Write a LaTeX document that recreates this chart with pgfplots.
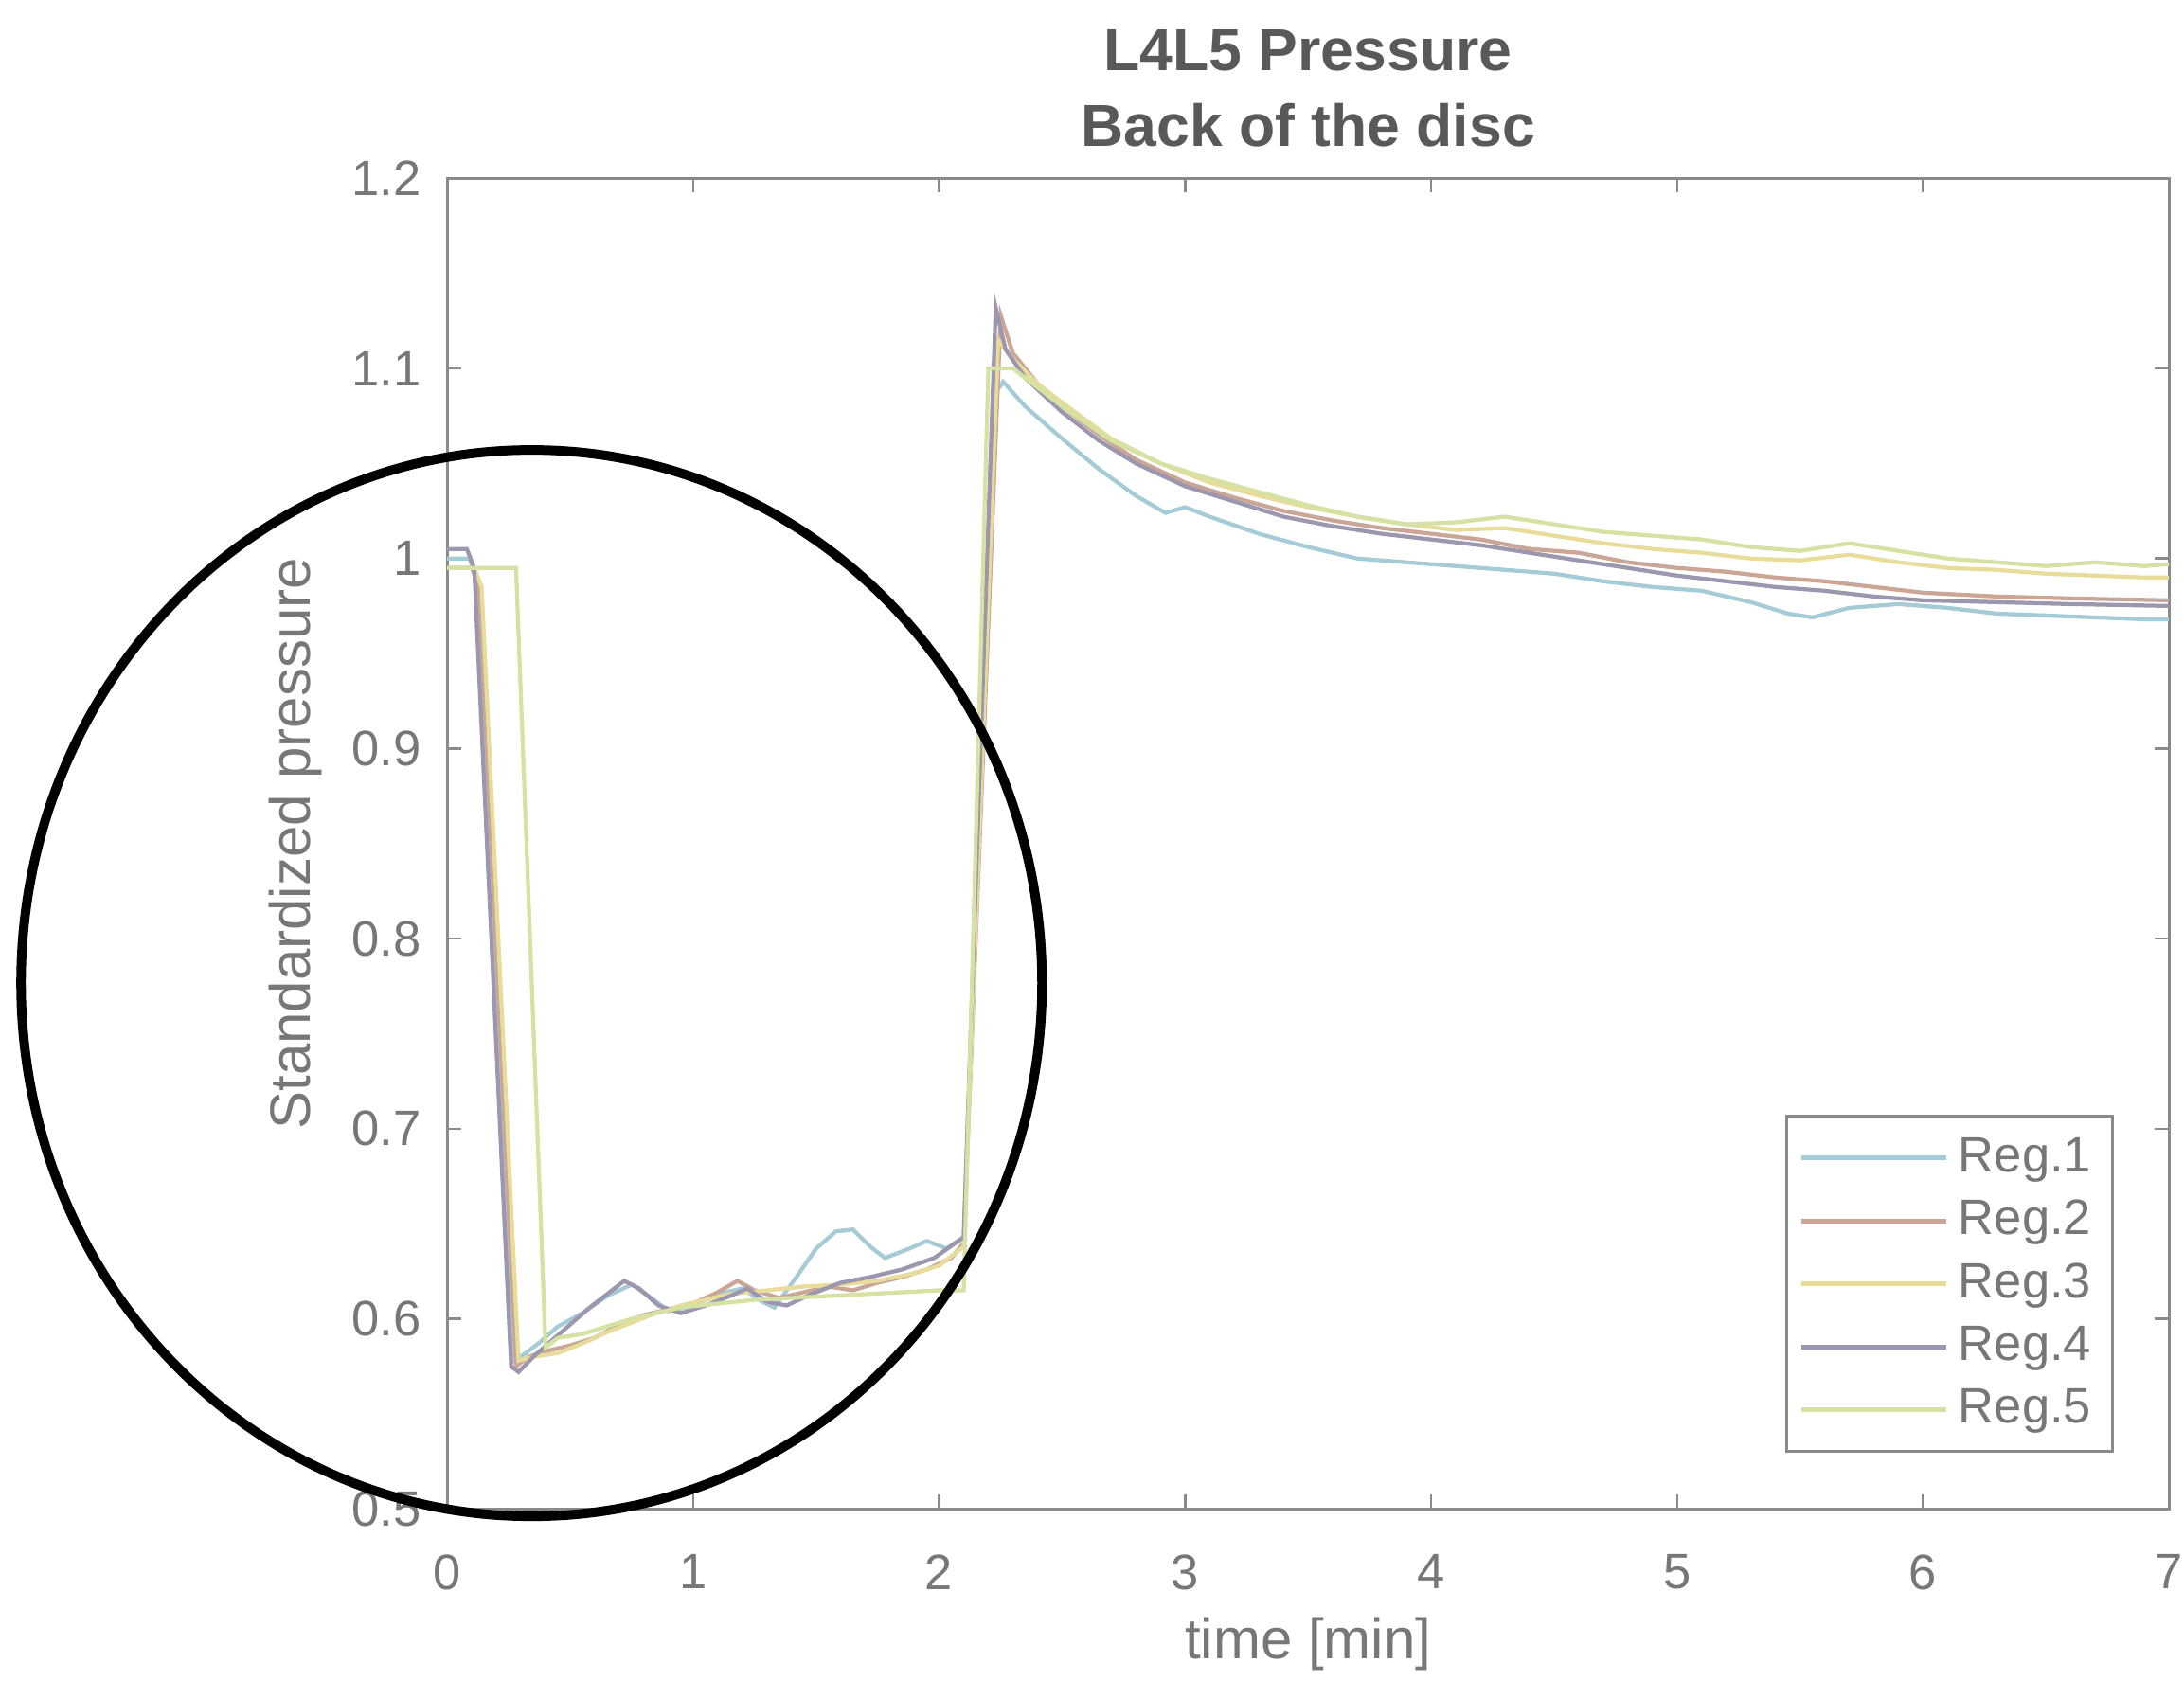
\documentclass[border=0pt]{standalone}
\usepackage{fontspec}
\setmainfont{Liberation Sans}
\usepackage{pgfplots}
\pgfplotsset{compat=1.18}

\definecolor{reg1}{HTML}{A5CBD6}
\definecolor{reg2}{HTML}{C9A696}
\definecolor{reg3}{HTML}{E8DC9A}
\definecolor{reg4}{HTML}{9C97AE}
\definecolor{reg5}{HTML}{D6E2A4}
\definecolor{axgray}{HTML}{8A8A8A}
\definecolor{txtgray}{HTML}{777777}

\begin{document}
\begin{tikzpicture}
\begin{axis}[
  scale only axis, width=363.6pt, height=281pt,
  xmin=0, xmax=7, ymin=0.5, ymax=1.2,
  xtick={0,...,7}, ytick={0.5,0.6,0.7,0.8,0.9,1,1.1,1.2},
  /pgf/number format/assume math mode=true,
  tick align=inside, major tick length=3pt,
  axis line style={draw=axgray, line width=0.6pt},
  every tick/.style={draw=axgray, line width=0.5pt},
  tick label style={font=\fontsize{10.5}{12}\selectfont, text=txtgray},
  xticklabel style={inner sep=0pt, yshift=-9.5pt},
  yticklabel style={xshift=-2pt},
  xlabel={time [min]}, ylabel={Standardized pressure},
  label style={font=\fontsize{12}{14}\selectfont, text=txtgray, inner sep=0pt},
  xlabel style={at={(axis description cs:0.5,-0.1014)}, anchor=center},
  ylabel style={at={(axis description cs:-0.088,0.5)}, anchor=center},
  title={L4L5 Pressure\\Back of the disc},
  title style={font=\bfseries\fontsize{12.5}{16}\selectfont, text=black!65, align=center,
    inner sep=0pt, at={(axis description cs:0.5,1.0463)}, anchor=center},
  legend style={at={(0.968,0.042)}, anchor=south east, draw=axgray, line width=0.6pt,
    font=\fontsize{10.5}{12}\selectfont, text=txtgray, row sep=0.5pt, inner sep=2.5pt,
    cells={anchor=east}},
  legend image code/.code={\draw[#1, line width=1pt] (0cm,0cm) -- (1.08cm,0cm);},
  clip=false,
  every axis plot/.append style={line width=0.85pt},
]
\path (axis cs:-1.818,0.4097) rectangle (axis cs:7.061,1.2938);

\addplot[reg1] coordinates {(0,1.0)(0.09,1.0)(0.12,0.99)(0.27,0.578)(0.32,0.582)(0.38,0.588)(0.45,0.596)(0.55,0.603)(0.65,0.612)(0.75,0.618)(0.82,0.612)(0.9,0.604)(1.0,0.607)(1.1,0.613)(1.2,0.616)(1.28,0.609)(1.33,0.606)(1.42,0.622)(1.5,0.637)(1.58,0.646)(1.65,0.647)(1.72,0.638)(1.78,0.632)(1.88,0.637)(1.95,0.641)(2.03,0.637)(2.1,0.643)(2.22,1.085)(2.26,1.093)(2.35,1.08)(2.5,1.063)(2.65,1.047)(2.8,1.033)(2.92,1.024)(3.0,1.027)(3.1,1.022)(3.3,1.013)(3.5,1.006)(3.7,1.0)(3.9,0.998)(4.1,0.996)(4.3,0.994)(4.5,0.992)(4.7,0.988)(4.9,0.985)(5.1,0.983)(5.3,0.977)(5.45,0.971)(5.55,0.969)(5.7,0.974)(5.9,0.976)(6.1,0.974)(6.3,0.971)(6.5,0.970)(6.7,0.969)(6.9,0.968)(7.0,0.968)};
\addlegendentry{Reg.1}
\addplot[reg2] coordinates {(0,0.995)(0.1,0.995)(0.13,0.985)(0.28,0.575)(0.33,0.58)(0.4,0.583)(0.5,0.586)(0.6,0.59)(0.7,0.597)(0.8,0.602)(0.9,0.605)(1.0,0.608)(1.1,0.614)(1.18,0.62)(1.25,0.615)(1.35,0.611)(1.45,0.614)(1.55,0.617)(1.65,0.615)(1.75,0.619)(1.85,0.622)(1.95,0.626)(2.05,0.632)(2.1,0.64)(2.25,1.128)(2.3,1.108)(2.4,1.092)(2.5,1.08)(2.65,1.065)(2.8,1.052)(3.0,1.04)(3.2,1.032)(3.4,1.025)(3.6,1.02)(3.8,1.016)(4.0,1.013)(4.2,1.01)(4.4,1.005)(4.6,1.003)(4.8,0.998)(5.0,0.995)(5.2,0.993)(5.4,0.99)(5.6,0.988)(5.8,0.985)(6.0,0.982)(6.3,0.98)(6.6,0.979)(7.0,0.978)};
\addlegendentry{Reg.2}
\addplot[reg3] coordinates {(0,0.995)(0.11,0.995)(0.14,0.985)(0.29,0.578)(0.35,0.58)(0.45,0.582)(0.55,0.587)(0.65,0.593)(0.75,0.598)(0.85,0.603)(0.95,0.607)(1.05,0.61)(1.15,0.613)(1.3,0.615)(1.45,0.617)(1.6,0.618)(1.75,0.62)(1.9,0.624)(2.0,0.628)(2.1,0.638)(2.24,1.115)(2.3,1.105)(2.4,1.092)(2.5,1.082)(2.7,1.063)(2.9,1.05)(3.1,1.04)(3.3,1.033)(3.5,1.027)(3.7,1.022)(3.9,1.018)(4.1,1.015)(4.3,1.016)(4.5,1.012)(4.7,1.008)(4.9,1.005)(5.1,1.003)(5.3,1.0)(5.5,0.999)(5.7,1.002)(5.9,0.998)(6.1,0.995)(6.3,0.994)(6.5,0.992)(6.7,0.991)(6.9,0.99)(7.0,0.99)};
\addlegendentry{Reg.3}
\addplot[reg4] coordinates {(0,1.005)(0.08,1.005)(0.11,0.995)(0.26,0.575)(0.29,0.572)(0.35,0.58)(0.42,0.588)(0.5,0.597)(0.58,0.606)(0.66,0.614)(0.72,0.62)(0.78,0.616)(0.86,0.607)(0.95,0.603)(1.05,0.607)(1.15,0.612)(1.22,0.616)(1.3,0.609)(1.38,0.607)(1.48,0.613)(1.6,0.619)(1.72,0.622)(1.85,0.626)(1.98,0.632)(2.1,0.643)(2.23,1.132)(2.27,1.11)(2.35,1.095)(2.5,1.077)(2.65,1.062)(2.8,1.05)(3.0,1.038)(3.2,1.03)(3.4,1.022)(3.6,1.017)(3.8,1.013)(4.0,1.01)(4.2,1.007)(4.4,1.003)(4.6,0.999)(4.8,0.995)(5.0,0.991)(5.2,0.988)(5.4,0.985)(5.6,0.983)(5.8,0.98)(6.0,0.978)(6.3,0.977)(6.6,0.976)(7.0,0.975)};
\addlegendentry{Reg.4}
\addplot[reg5] coordinates {(0,0.995)(0.28,0.995)(0.4,0.585)(0.45,0.59)(0.55,0.592)(0.65,0.596)(0.75,0.6)(0.85,0.603)(0.95,0.606)(1.1,0.608)(1.25,0.61)(1.4,0.611)(1.55,0.612)(1.7,0.613)(1.85,0.614)(2.0,0.615)(2.1,0.615)(2.2,1.1)(2.3,1.1)(2.4,1.09)(2.5,1.08)(2.7,1.062)(2.9,1.05)(3.1,1.042)(3.3,1.035)(3.5,1.028)(3.7,1.022)(3.9,1.018)(4.1,1.019)(4.3,1.022)(4.5,1.018)(4.7,1.014)(4.9,1.012)(5.1,1.01)(5.3,1.006)(5.5,1.004)(5.7,1.008)(5.9,1.004)(6.1,1.0)(6.3,0.998)(6.5,0.996)(6.7,0.998)(6.9,0.996)(7.0,0.997)};
\addlegendentry{Reg.5}

% highlight ring round the first drop
\draw[black, line width=2pt] (axis cs:0.343,0.7766) ellipse [x radius=107.8pt, y radius=112.6pt];
\end{axis}
\end{tikzpicture}
\end{document}
